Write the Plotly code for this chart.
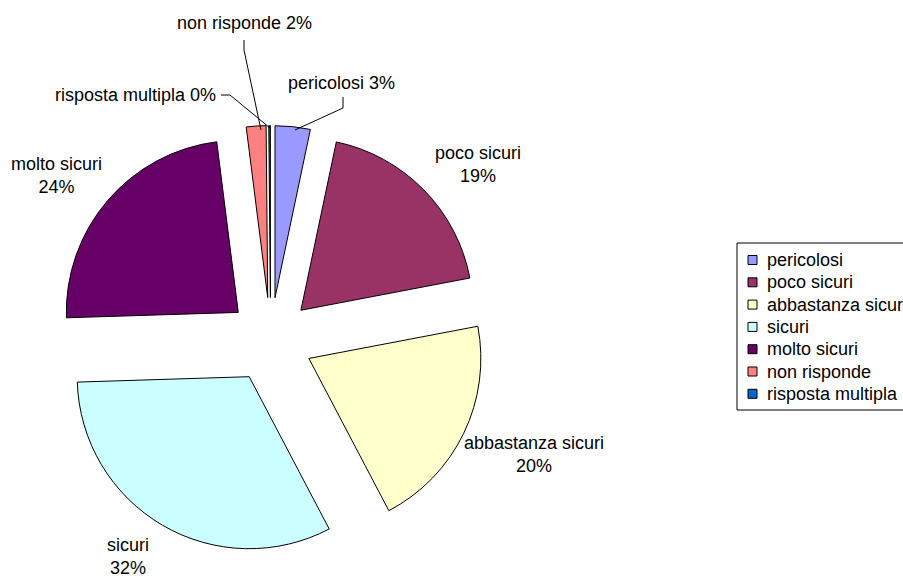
import plotly.graph_objects as go

# ---- data ----
categories = ["pericolosi", "poco sicuri", "abbastanza sicuri", "sicuri",
              "molto sicuri", "non risponde", "risposta multipla"]
values = [3.3, 18.7, 20.3, 32.2, 23.5, 1.85, 0.15]
pct_labels = ["3%", "19%", "20%", "32%", "24%", "2%", "0%"]
colors = ["#9999FF", "#993366", "#FFFFCC", "#CCFFFF", "#660066", "#FF8080", "#0066CC"]

W, H = 903, 579
FONT = "Liberation Sans, Arial, sans-serif"
FS = 18

def px(x):
    return x / W

def py(y):
    return 1 - y / H

PULL = 0.247
R = 172
CX, CY = 270.6, 340.0
HALF = R * (1 + PULL)

fig = go.Figure(go.Pie(
    labels=categories,
    values=values,
    sort=False,
    direction="clockwise",
    rotation=0,
    pull=PULL,
    marker=dict(colors=colors, line=dict(color="black", width=1)),
    textinfo="none",
    hoverinfo="label+percent",
    showlegend=False,
    domain=dict(x=[px(CX - HALF), px(CX + HALF)], y=[py(CY + HALF), py(CY - HALF)]),
))

# data label placement (layout only)
label_pos = {
    "pericolosi": (341, 83, "center", False),
    "poco sicuri": (478, 164, "center", True),
    "abbastanza sicuri": (534, 454, "center", True),
    "sicuri": (128, 556, "center", True),
    "molto sicuri": (56, 175, "center", True),
    "non risponde": (244, 23, "center", False),
    "risposta multipla": (218, 95, "right", False),
}
annotations = []
for cat, pct in zip(categories, pct_labels):
    x, y, anchor, two = label_pos[cat]
    text = f"{cat}<br>{pct}" if two else f"{cat} {pct}"
    annotations.append(dict(
        x=px(x), y=py(y), xref="paper", yref="paper", text=text,
        showarrow=False, xanchor=anchor, yanchor="middle", align="center",
        font=dict(family=FONT, size=FS, color="black"),
    ))

leaders = [
    [(244, 40), (244, 50), (261, 130)],
    [(221, 95), (230, 95), (270, 128)],
    [(343, 97), (343, 108), (295, 130)],
]
shapes = []
for pts in leaders:
    path = "M " + " L ".join(f"{px(x)},{py(y)}" for x, y in pts)
    shapes.append(dict(type="path", path=path, xref="paper", yref="paper",
                       line=dict(color="black", width=1)))

# legend box (Excel style, clipped at the right edge)
LEG_L, LEG_T, LEG_B = 737, 243, 410
ROW0, ROW_GAP = 260, 22.3
shapes.append(dict(type="rect", xref="paper", yref="paper",
                   x0=px(LEG_L), x1=px(W + 20), y0=py(LEG_B), y1=py(LEG_T),
                   line=dict(color="black", width=1), fillcolor="white", layer="above"))
for i, (cat, col) in enumerate(zip(categories, colors)):
    yc = ROW0 + i * ROW_GAP
    shapes.append(dict(type="rect", xref="paper", yref="paper",
                       x0=px(748), x1=px(757), y0=py(yc + 4.5), y1=py(yc - 4.5),
                       line=dict(color="black", width=1), fillcolor=col, layer="above"))
    annotations.append(dict(
        x=px(765), y=py(yc), xref="paper", yref="paper", text=cat,
        showarrow=False, xanchor="left", yanchor="middle", align="left",
        font=dict(family=FONT, size=FS, color="black"),
    ))

fig.update_layout(
    width=W, height=H,
    margin=dict(l=0, r=0, t=0, b=0, autoexpand=False),
    paper_bgcolor="white",
    plot_bgcolor="white",
    showlegend=False,
    annotations=annotations,
    shapes=shapes,
)

fig.write_html("out.html", config={"displayModeBar": False},
               post_script="document.body.style.margin='0px';")
